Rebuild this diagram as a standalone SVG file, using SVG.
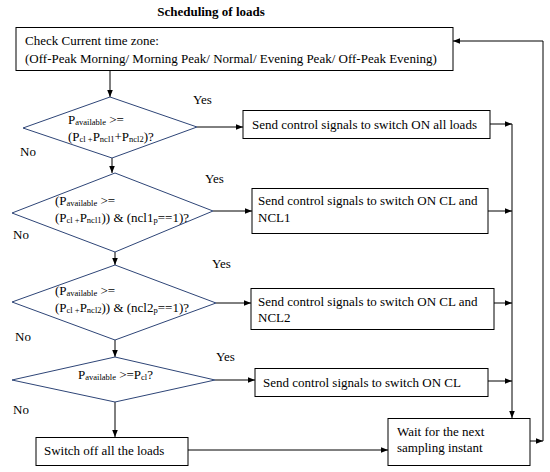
<svg xmlns="http://www.w3.org/2000/svg" width="550" height="472" viewBox="0 0 550 472">
<style>
text{font-family:"Liberation Serif","Times New Roman",serif;font-size:13px;fill:#000}
.title{font-weight:bold;font-size:13px}
.box{fill:#fff;stroke:#000;stroke-width:1}
.dia{fill:#fff;stroke:#2E4577;stroke-width:1}
.sub{font-size:8.5px}
.con{fill:none;stroke:#000;stroke-width:1}
</style>
<defs>
<marker id="ah" viewBox="0 0 10 10" refX="10" refY="5" markerWidth="7" markerHeight="7" orient="auto" markerUnits="userSpaceOnUse">
<path d="M0,1 L10,5 L0,9 z" fill="#000"/>
</marker>
</defs>
<rect width="550" height="472" fill="#fff"/>
<text class="title" x="211" y="16" text-anchor="middle">Scheduling of loads</text>

<g id="connectors">
<path class="con" d="M110,71 V97" marker-end="url(#ah)"/>
<path class="con" d="M197,127 H243" marker-end="url(#ah)"/>
<path class="con" d="M112,158 V173" marker-end="url(#ah)"/>
<path class="con" d="M213,211 H252" marker-end="url(#ah)"/>
<path class="con" d="M115,252 V265" marker-end="url(#ah)"/>
<path class="con" d="M216,303 H251" marker-end="url(#ah)"/>
<path class="con" d="M115,340 V357" marker-end="url(#ah)"/>
<path class="con" d="M215,380 H255" marker-end="url(#ah)"/>
<path class="con" d="M115,402 V437" marker-end="url(#ah)"/>
<path class="con" d="M188,450 H388" marker-end="url(#ah)"/>
<path class="con" d="M490,124 H512" marker-end="url(#ah)"/>
<path class="con" d="M488,211 H512" marker-end="url(#ah)"/>
<path class="con" d="M494,303 H512" marker-end="url(#ah)"/>
<path class="con" d="M488,381 H512" marker-end="url(#ah)"/>
<path class="con" d="M512,124 V418" marker-end="url(#ah)"/>
<path class="con" d="M530,441 H543" marker-end="url(#ah)"/>
<path class="con" d="M543,441 V41 H453" marker-end="url(#ah)"/>
</g>

<g id="labels">
<text x="193" y="104">Yes</text>
<text x="20" y="156">No</text>
<text x="205" y="183">Yes</text>
<text x="13" y="239">No</text>
<text x="212" y="268">Yes</text>
<text x="15" y="341">No</text>
<text x="216" y="361">Yes</text>
<text x="13" y="414">No</text>
</g>

<g id="check-time-zone">
<rect class="box" x="16" y="27.5" width="437" height="43"/>
<text x="25" y="45">Check Current time zone:</text>
<text x="25" y="63">(Off-Peak Morning/ Morning Peak/ Normal/ Evening Peak/ Off-Peak Evening)</text>
</g>

<g id="decision1">
<polygon class="dia" points="110,97 197,127 112,158 23,128"/>
<text x="68" y="124">P<tspan class="sub" dy="1">available</tspan><tspan dy="-1"> &gt;=</tspan></text>
<text x="68" y="141">(P<tspan class="sub" dy="1">cl +</tspan><tspan dy="-1">P</tspan><tspan class="sub" dy="1">ncl1</tspan><tspan dy="-1">+P</tspan><tspan class="sub" dy="1">ncl2</tspan><tspan dy="-1">)?</tspan></text>
</g>

<g id="switch-all">
<rect class="box" x="243" y="110.5" width="247" height="28"/>
<text x="252" y="129">Send control signals to switch ON all loads</text>
</g>

<g id="decision2">
<polygon class="dia" points="115,173 213,211 115,252 12,213"/>
<text x="55" y="205">(P<tspan class="sub" dy="1">available</tspan><tspan dy="-1"> &gt;=</tspan></text>
<text x="55" y="222">(P<tspan class="sub" dy="1">cl +</tspan><tspan dy="-1">P</tspan><tspan class="sub" dy="1">ncl1</tspan><tspan dy="-1">)) &amp; (ncl1</tspan><tspan class="sub" dy="1">p</tspan><tspan dy="-1">==1)?</tspan></text>
</g>

<g id="switch-cl-ncl1">
<rect class="box" x="252" y="188.5" width="236" height="45"/>
<text x="258" y="205">Send control signals to switch ON CL and</text>
<text x="258" y="222">NCL1</text>
</g>

<g id="decision3">
<polygon class="dia" points="115,265 216,303 115,340 12,302"/>
<text x="55" y="295">(P<tspan class="sub" dy="1">available</tspan><tspan dy="-1"> &gt;=</tspan></text>
<text x="55" y="312">(P<tspan class="sub" dy="1">cl +</tspan><tspan dy="-1">P</tspan><tspan class="sub" dy="1">ncl2</tspan><tspan dy="-1">)) &amp; (ncl2</tspan><tspan class="sub" dy="1">p</tspan><tspan dy="-1">==1)?</tspan></text>
</g>

<g id="switch-cl-ncl2">
<rect class="box" x="251" y="288.5" width="243" height="41"/>
<text x="258" y="306">Send control signals to switch ON CL and</text>
<text x="258" y="322">NCL2</text>
</g>

<g id="decision4">
<polygon class="dia" points="115,357 215,380 115,402 12,380"/>
<text x="78" y="379">P<tspan class="sub" dy="1">available</tspan><tspan dy="-1"> &gt;=P</tspan><tspan class="sub" dy="1">cl</tspan><tspan dy="-1">?</tspan></text>
</g>

<g id="switch-cl">
<rect class="box" x="255" y="368.5" width="233" height="28"/>
<text x="263" y="387">Send control signals to switch ON CL</text>
</g>

<g id="switch-off">
<rect class="box" x="36" y="437.5" width="152" height="28"/>
<text x="44" y="455">Switch off all the loads</text>
</g>

<g id="wait">
<rect class="box" x="388" y="418.5" width="142" height="47"/>
<text x="397" y="436">Wait for the next</text>
<text x="397" y="452">sampling instant</text>
</g>
</svg>
